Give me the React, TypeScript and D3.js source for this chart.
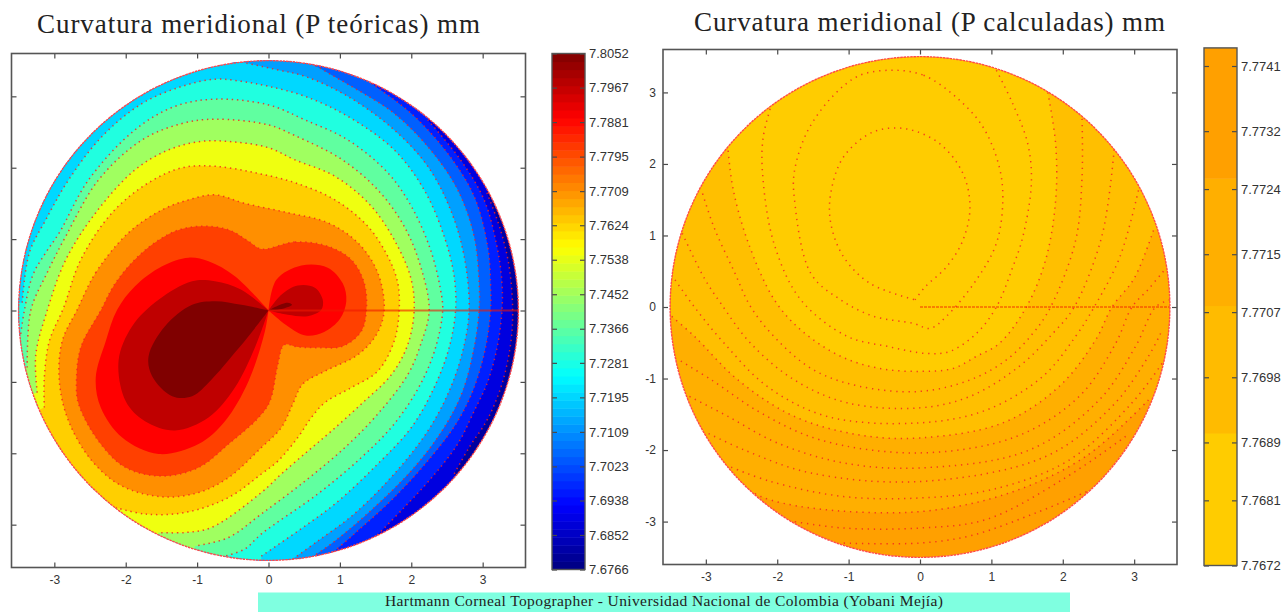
import React, { useEffect, useRef } from 'react'
import * as d3 from 'd3'

type Pt = [number, number]
type Contour = { level: number; kind: 'open' | 'loop' | 'lobe'; pts: Pt[] }

const axisTicks = [-3, -2, -1, 0, 1, 2, 3]

// filled levels of the left map, low to high
const leftLevelColors = ['#00009f', '#0000df', '#0020ff', '#0060ff', '#00a0ff', '#00d8ff', '#20ffe0', '#60ffa0', '#a0ff60', '#efff10', '#ffcf00', '#ff8f00', '#ff4000', '#ff0000', '#bf0000', '#800000']

const k1: Pt[] = [[3.06, 1.65], [3.25, 1.13], [3.37, 0.62], [3.42, 0], [3.39, -0.48], [3.27, -1.03], [3.07, -1.52], [2.81, -1.92], [2.6, -2.29]]
const k2: Pt[] = [[2.23, 2.67], [2.69, 2.11], [3.02, 1.55], [3.2, 0.9], [3.27, 0.39], [3.27, 0], [3.21, -0.48], [3.07, -1], [2.88, -1.41], [2.65, -1.87], [2.27, -2.36], [1.9, -2.76], [1.51, -3.16]]
const k3: Pt[] = [[1.44, 3.18], [2, 2.76], [2.51, 2.2], [2.88, 1.6], [3.07, 0.9], [3.11, 0.39], [3.11, 0], [3.04, -0.52], [2.88, -1.08], [2.65, -1.55], [2.27, -2.06], [1.76, -2.62], [1.2, -3.13], [0.9, -3.39]]
const k4: Pt[] = [[0.53, 3.5], [1.16, 3.14], [1.76, 2.76], [2.27, 2.25], [2.65, 1.69], [2.88, 1.04], [2.95, 0.39], [2.95, 0], [2.88, -0.52], [2.72, -1.13], [2.46, -1.64], [2.04, -2.2], [1.48, -2.76], [0.93, -3.23], [0.6, -3.46]]
const k5: Pt[] = [[-0.38, 3.48], [0.13, 3.37], [0.51, 3.28], [1.11, 3], [1.76, 2.53], [2.23, 2.02], [2.55, 1.41], [2.74, 0.76], [2.81, 0], [2.72, -0.57], [2.53, -1.13], [2.23, -1.69], [1.76, -2.29], [1.2, -2.85], [0.69, -3.23], [0.3, -3.51]]
const k6: Pt[] = [[-3.45, 0.11], [-3.35, 0.81], [-3.12, 1.27], [-2.8, 1.83], [-2.33, 2.44], [-1.77, 2.9], [-1.21, 3.14], [-0.75, 3.24], [-0.38, 3.21], [0, 3.14], [0.51, 3], [1.11, 2.72], [1.76, 2.25], [2.18, 1.69], [2.46, 1.04], [2.6, 0.48], [2.62, 0], [2.53, -0.52], [2.32, -1.08], [2, -1.64], [1.53, -2.15], [0.93, -2.71], [0.41, -3.09], [-0.1, -3.44]]
const k7: Pt[] = [[-3.48, -0.4], [-3.42, 0], [-3.3, 0.5], [-3.12, 0.81], [-2.93, 1.09], [-2.52, 1.83], [-1.87, 2.53], [-1.31, 2.86], [-0.75, 2.96], [0, 2.88], [0.51, 2.67], [1.11, 2.39], [1.67, 1.93], [2, 1.46], [2.27, 0.85], [2.41, 0.29], [2.44, 0], [2.34, -0.52], [2.13, -1.03], [1.76, -1.59], [1.3, -2.06], [0.69, -2.57], [-0.1, -3.13], [-0.33, -3.34], [-0.61, -3.44]]
const k8: Pt[] = [[-3.38, -0.8], [-3.33, 0], [-3.1, 0.53], [-2.84, 1.04], [-2.38, 1.83], [-1.77, 2.39], [-1.21, 2.62], [-0.75, 2.68], [0, 2.6], [0.37, 2.45], [1.02, 2.12], [1.53, 1.69], [1.9, 1.18], [2.13, 0.62], [2.25, 0], [2.13, -0.48], [1.95, -0.9], [1.53, -1.45], [1.07, -1.92], [0.51, -2.39], [-0.1, -2.85], [-0.56, -3.18], [-1.03, -3.3]]
const k9: Pt[] = [[-3.24, -1.15], [-3.26, -0.62], [-3.1, 0], [-2.84, 0.71], [-2.42, 1.37], [-1.87, 1.97], [-1.4, 2.25], [-0.93, 2.37], [-0.47, 2.36], [0, 2.28], [0.37, 2.11], [0.93, 1.88], [1.44, 1.46], [1.81, 0.9], [2, 0.43], [2.04, 0], [1.95, -0.48], [1.72, -0.9], [1.3, -1.31], [0.88, -1.69], [0.55, -1.97], [0.18, -2.29], [-0.1, -2.55], [-0.8, -3.04], [-1.17, -3.11], [-1.54, -3.11]]
const k10: Pt[] = [[-3.14, -1.36], [-3.14, -0.94], [-3.07, -0.43], [-2.87, 0.04], [-2.63, 0.71], [-2.19, 1.37], [-1.68, 1.79], [-1.21, 2], [-0.75, 2.02], [-0.19, 1.93], [0.37, 1.79], [0.93, 1.55], [1.39, 1.18], [1.67, 0.76], [1.81, 0.39], [1.83, 0], [1.76, -0.43], [1.53, -0.85], [1.16, -1.08], [0.79, -1.29], [0.6, -1.5], [0.41, -1.78], [0.13, -2.11], [-0.1, -2.29], [-0.56, -2.62], [-1.17, -2.83], [-1.73, -2.85], [-2.14, -2.76]]
const k11: Pt[] = [[-2.68, 0.01], [-2.42, 0.53], [-1.96, 1.09], [-1.49, 1.41], [-1.12, 1.55], [-0.75, 1.62], [-0.33, 1.5], [0.27, 1.37], [0.83, 1.23], [1.25, 0.95], [1.53, 0.53], [1.62, 0], [1.51, -0.34], [1.25, -0.62], [0.79, -0.85], [0.48, -1.03], [0.34, -1.31], [0.18, -1.64], [-0.1, -1.92], [-0.56, -2.34], [-0.98, -2.55], [-1.49, -2.61], [-2.05, -2.46], [-2.47, -2.11], [-2.8, -1.55], [-2.93, -0.99], [-2.89, -0.43]]
const k12: Pt[] = [[-0.1, 0.86], [0.37, 0.96], [0.83, 0.9], [1.16, 0.71], [1.34, 0.39], [1.37, 0], [1.3, -0.29], [1.04, -0.5], [0.69, -0.52], [0.41, -0.51], [0.22, -0.48], [0.13, -0.76], [0.02, -1.27], [-0.14, -1.5], [-0.56, -1.87], [-0.98, -2.2], [-1.49, -2.32], [-2, -2.2], [-2.38, -1.83], [-2.66, -1.31], [-2.69, -1.03], [-2.63, -0.52], [-2.35, 0], [-2.14, 0.39], [-1.77, 0.81], [-1.31, 1.11], [-0.93, 1.18], [-0.56, 1.13], [-0.28, 0.97]]
const k13Left: Pt[] = [[0, 0], [-0.47, 0.48], [-0.84, 0.69], [-1.12, 0.74], [-1.49, 0.62], [-1.87, 0.34], [-2.12, 0.01], [-2.28, -0.43], [-2.42, -0.94], [-2.35, -1.36], [-2.05, -1.78], [-1.54, -2.01], [-0.98, -1.87], [-0.61, -1.55], [-0.28, -0.99], [-0.05, -0.29], [0, 0]]
const k13Right: Pt[] = [[0, 0], [0.11, 0.43], [0.46, 0.63], [0.83, 0.6], [1.04, 0.38], [1.09, 0.13], [1, -0.12], [0.78, -0.3], [0.52, -0.35], [0.27, -0.22], [0, 0]]
const k14Left: Pt[] = [[0, 0], [-0.38, 0.29], [-0.75, 0.41], [-1.07, 0.41], [-1.54, 0.15], [-1.91, -0.22], [-2.1, -0.7], [-2, -1.27], [-1.73, -1.55], [-1.31, -1.68], [-0.84, -1.5], [-0.47, -1.08], [-0.19, -0.52], [0, 0]]
const k14Right: Pt[] = [[0, 0], [0.18, 0.22], [0.41, 0.35], [0.65, 0.32], [0.76, 0.15], [0.74, 0.01], [0.55, -0.08], [0.27, -0.06], [0, 0]]
const k15Left: Pt[] = [[0, 0], [-0.38, 0.08], [-0.75, 0.13], [-1.07, 0.08], [-1.45, -0.22], [-1.68, -0.64], [-1.63, -0.92], [-1.35, -1.2], [-1.07, -1.2], [-0.8, -0.97], [-0.47, -0.59], [-0.24, -0.31], [0, 0]]
const k15Right: Pt[] = [[0, 0], [0.09, 0.05], [0.27, 0.11], [0.33, 0.08], [0.18, 0.02], [0, 0]]

const leftContours: Contour[] = [
  { level: 1, kind: 'open', pts: k1 },
  { level: 2, kind: 'open', pts: k2 },
  { level: 3, kind: 'open', pts: k3 },
  { level: 4, kind: 'open', pts: k4 },
  { level: 5, kind: 'open', pts: k5 },
  { level: 6, kind: 'open', pts: k6 },
  { level: 7, kind: 'open', pts: k7 },
  { level: 8, kind: 'open', pts: k8 },
  { level: 9, kind: 'open', pts: k9 },
  { level: 10, kind: 'open', pts: k10 },
  { level: 11, kind: 'loop', pts: k11 },
  { level: 12, kind: 'loop', pts: k12 },
  { level: 13, kind: 'lobe', pts: k13Left },
  { level: 13, kind: 'lobe', pts: k13Right },
  { level: 14, kind: 'lobe', pts: k14Left },
  { level: 14, kind: 'lobe', pts: k14Right },
  { level: 15, kind: 'lobe', pts: k15Left },
  { level: 15, kind: 'lobe', pts: k15Right },
]

// right map, only four colours show up
const rightLevelColors = ['#ffa000', '#ffaf00', '#ffbf00', '#ffcc00']

const d1: Pt[] = [[-0.07, 0.1], [0.07, 0.28], [0.37, 0.56], [0.6, 0.93], [0.7, 1.4], [0.6, 1.87], [0.28, 2.28], [-0.19, 2.49], [-0.65, 2.45], [-1.07, 2.1], [-1.25, 1.59], [-1.25, 1.17], [-1.07, 0.7], [-0.7, 0.33], [-0.07, 0.1]]
const d2: Pt[] = [[-0.37, 3.31], [0.05, 3.24], [0.51, 2.93], [0.88, 2.52], [1.11, 1.96], [1.16, 1.49], [1.07, 0.89], [0.79, 0.38], [0.37, -0.13], [0.14, -0.3], [-0.09, -0.23], [-0.65, -0.13], [-1.11, 0.1], [-1.53, 0.47], [-1.76, 1.52], [-1.76, 1.89], [-1.58, 2.45], [-1.21, 2.96], [-0.84, 3.24]]
const d3c: Pt[] = [[1.07, 3.31], [1.3, 2.84], [1.51, 2.28], [1.56, 1.73], [1.44, 0.98], [1.3, 0.56], [1.07, 0], [0.79, -0.37], [0.42, -0.62], [0.09, -0.65], [-0.46, -0.55], [-1.02, -0.41], [-1.67, 0.1], [-2.04, 0.87], [-2.2, 1.8], [-2.2, 2.35], [-2.09, 2.8]]
const d4: Pt[] = [[1.79, 3], [1.9, 2.28], [1.9, 1.49], [1.76, 0.66], [1.49, 0], [1.11, -0.51], [0.79, -0.69], [0.46, -0.86], [0, -0.9], [-0.56, -0.86], [-1.11, -0.69], [-1.67, -0.32], [-2.04, 0.1], [-2.41, 0.91], [-2.62, 1.66], [-2.69, 2.21]]
const d5: Pt[] = [[2.27, 2.63], [2.27, 1.82], [2.18, 0.93], [1.83, 0], [1.58, -0.37], [1.21, -0.74], [0.7, -1.02], [0, -1.18], [-0.84, -1.11], [-1.49, -0.88], [-2, -0.46], [-2.37, 0], [-2.6, 0.49], [-2.88, 1.1], [-3.06, 1.63]]
const d6: Pt[] = [[2.72, 2.2], [2.55, 1], [2.16, 0], [1.86, -0.37], [1.39, -0.83], [0.7, -1.25], [0, -1.41], [-1.02, -1.34], [-1.76, -1.02], [-2.37, -0.51], [-2.79, 0.05], [-3.02, 0.4], [-3.34, 1.05]]
const d7: Pt[] = [[3.06, 1.63], [2.8, 0.7], [2.44, 0], [2.18, -0.41], [1.72, -0.97], [0.93, -1.44], [0, -1.62], [-1.3, -1.53], [-2.14, -1.11], [-2.74, -0.51], [-3.16, 0], [-3.48, 0.45]]
const d8: Pt[] = [[3.27, 1.07], [3, 0.4], [2.69, 0], [2.46, -0.46], [1.95, -1.11], [1.16, -1.62], [0, -1.83], [-0.84, -1.79], [-1.76, -1.53], [-2.55, -1.02], [-3.16, -0.41], [-3.48, -0.13]]
const d9: Pt[] = [[3.41, 0.5], [3.2, 0.25], [2.97, 0], [2.74, -0.51], [2.23, -1.25], [1.35, -1.81], [0, -2.04], [-1.39, -1.86], [-2.23, -1.48], [-2.92, -1.02], [-3.41, -0.72]]
const d10: Pt[] = [[3.5, 0.1], [3.3, 0], [3.02, -0.55], [2.51, -1.3], [1.53, -2], [0, -2.25], [-1.07, -2.18], [-2, -1.9], [-2.69, -1.53], [-3.23, -1.25]]
const d11: Pt[] = [[3.37, -0.37], [3.2, -0.69], [2.69, -1.39], [1.76, -2.09], [0, -2.44], [-1.53, -2.32], [-2.46, -2], [-3.02, -1.74]]
const d12: Pt[] = [[3.39, -0.79], [2.97, -1.34], [2.09, -2.14], [1.02, -2.55], [0, -2.67], [-1.07, -2.65], [-2.09, -2.44], [-2.67, -2.23]]
const d13: Pt[] = [[3.2, -1.3], [2.32, -2.09], [1.25, -2.6], [0, -2.86], [-1.53, -2.81], [-2.23, -2.65], [-2.51, -2.48]]
const d14: Pt[] = [[2.88, -1.81], [2, -2.41], [0.93, -2.97], [0, -3.09], [-1.07, -3.09], [-1.76, -3]]
const d15: Pt[] = [[2.41, -2.55], [1.62, -2.88], [0.7, -3.2], [0, -3.3], [-1.11, -3.3]]

// level 0 means the line is only dots, no fill change
const rightContours: Contour[] = [
  { level: 1, kind: 'open', pts: d13 },
  { level: 2, kind: 'open', pts: d8 },
  { level: 3, kind: 'open', pts: d4 },
  { level: 0, kind: 'open', pts: d15 },
  { level: 0, kind: 'open', pts: d14 },
  { level: 0, kind: 'open', pts: d12 },
  { level: 0, kind: 'open', pts: d11 },
  { level: 0, kind: 'open', pts: d10 },
  { level: 0, kind: 'open', pts: d9 },
  { level: 0, kind: 'open', pts: d7 },
  { level: 0, kind: 'open', pts: d6 },
  { level: 0, kind: 'open', pts: d5 },
  { level: 0, kind: 'open', pts: d3c },
  { level: 0, kind: 'loop', pts: d2 },
  { level: 0, kind: 'lobe', pts: d1 },
]

const leftBarTicks = [7.8052, 7.7967, 7.7881, 7.7795, 7.7709, 7.7624, 7.7538, 7.7452, 7.7366, 7.7281, 7.7195, 7.7109, 7.7023, 7.6938, 7.6852, 7.6766]
const rightBarTicks = [7.7741, 7.7732, 7.7724, 7.7715, 7.7707, 7.7698, 7.7689, 7.7681, 7.7672]
const rightBarEdges = [7.7672, 7.76903, 7.77079, 7.77255, 7.77435]
const rightBarColors = ['#ffcc00', '#ffbb00', '#ffaf00', '#ffa000']

const tickColor = '#4a4a4a'
const labelFont = '"Liberation Sans", Arial, sans-serif'

function jet(t: number) {
  const c = (v: number) => Math.round(255 * Math.max(0, Math.min(1, v)))
  return d3.rgb(c(1.5 - Math.abs(4 * t - 3)), c(1.5 - Math.abs(4 * t - 2)), c(1.5 - Math.abs(4 * t - 1))).toString()
}

function styleAxis(g: any, size = 12) {
  g.select('.domain').remove()
  g.selectAll('line').attr('stroke', tickColor).attr('stroke-width', 1.2)
  g.selectAll('text').attr('fill', '#333').attr('font-size', size).attr('font-family', labelFont)
}

function drawMap(svg: any, id: string, box: { x0: number; x1: number; y0: number; y1: number }, contours: Contour[], colors: string[], showY: boolean, rayDash: string | null, dots: string) {
  const x = d3.scaleLinear().domain([-3.6, 3.6]).range([box.x0, box.x1])
  const y = d3.scaleLinear().domain([-3.6, 3.6]).range([box.y1, box.y0])

  svg.append('rect')
    .attr('x', box.x0).attr('y', box.y0)
    .attr('width', box.x1 - box.x0).attr('height', box.y1 - box.y0)
    .attr('fill', '#fff')

  const cx = x(0), cy = y(0)
  const rx = x(3.5) - cx, ry = cy - y(3.5)

  svg.append('clipPath').attr('id', id)
    .append('ellipse').attr('cx', cx).attr('cy', cy).attr('rx', rx).attr('ry', ry)

  const plot = svg.append('g').attr('clip-path', `url(#${id})`)

  plot.append('rect')
    .attr('x', box.x0).attr('y', box.y0)
    .attr('width', box.x1 - box.x0).attr('height', box.y1 - box.y0)
    .attr('fill', colors[0])

  const openLine = d3.line<Pt>().x(d => x(d[0])).y(d => y(d[1])).curve(d3.curveCatmullRom.alpha(0.5))
  const loopLine = d3.line<Pt>().x(d => x(d[0])).y(d => y(d[1])).curve(d3.curveCatmullRomClosed.alpha(0.5))

  // contours run clockwise; an open one is shut by going round outside the circle
  const fillPath = (c: Contour) => {
    if (c.kind === 'loop') return loopLine(c.pts)
    if (c.kind === 'lobe') return openLine(c.pts) + 'Z'
    const first = c.pts[0], last = c.pts[c.pts.length - 1]
    const a1 = Math.atan2(last[1], last[0])
    let a0 = Math.atan2(first[1], first[0])
    while (a0 >= a1) a0 -= Math.PI * 2
    const ring: string[] = d3.range(0, 25).map(i => {
      const a = a1 + (a0 - a1) * i / 24
      return `L${x(8 * Math.cos(a))},${y(8 * Math.sin(a))}`
    })
    return openLine(c.pts) + ring.join('') + 'Z'
  }

  contours.filter(c => c.level > 0).forEach(c => {
    plot.append('path').attr('d', fillPath(c)).attr('fill', colors[c.level])
  })

  // red dots vanish on the red levels so those get none
  contours.filter(c => c.level < 13).forEach(c => {
    plot.append('path')
      .attr('d', c.kind === 'loop' ? loopLine(c.pts) : openLine(c.pts))
      .attr('fill', 'none')
      .attr('stroke', '#f4231e')
      .attr('stroke-opacity', 0.85)
      .attr('stroke-width', 1.5)
      .attr('stroke-dasharray', dots)
  })

  // the radial line at angle zero
  const ray = plot.append('line')
    .attr('x1', x(0)).attr('x2', x(3.5)).attr('y1', cy).attr('y2', cy)
    .attr('stroke', '#f01800')
  if (rayDash) ray.attr('stroke-width', 1).attr('stroke-opacity', 0.85).attr('stroke-dasharray', rayDash)
  else ray.attr('stroke-width', 2).attr('stroke-opacity', 0.6)

  // rim
  svg.append('ellipse')
    .attr('cx', cx).attr('cy', cy).attr('rx', rx).attr('ry', ry)
    .attr('fill', 'none')
    .attr('stroke', '#ff4a4a')
    .attr('stroke-width', 1.4)
    .attr('stroke-dasharray', '2.5 0.8')

  const bottom = svg.append('g').attr('transform', `translate(0,${box.y1})`)
    .call(d3.axisBottom(x).tickValues(axisTicks).tickSize(-5).tickPadding(8).tickFormat((d: any) => String(d)))
  styleAxis(bottom)
  const top = svg.append('g').attr('transform', `translate(0,${box.y0})`)
    .call(d3.axisTop(x).tickValues(axisTicks).tickSize(-5).tickFormat(() => ''))
  styleAxis(top)
  const left = svg.append('g').attr('transform', `translate(${box.x0},0)`)
    .call(d3.axisLeft(y).tickValues(axisTicks).tickSize(-5).tickPadding(7).tickFormat(showY ? ((d: any) => String(d)) : () => ''))
  styleAxis(left)
  const right = svg.append('g').attr('transform', `translate(${box.x1},0)`)
    .call(d3.axisRight(y).tickValues(axisTicks).tickSize(-5).tickFormat(() => ''))
  styleAxis(right)

  svg.append('rect')
    .attr('x', box.x0).attr('y', box.y0)
    .attr('width', box.x1 - box.x0).attr('height', box.y1 - box.y0)
    .attr('fill', 'none').attr('stroke', '#555').attr('stroke-width', 1.6)
}

function drawBar(svg: any, box: { x0: number; x1: number; y0: number; y1: number }, scale: any, ticks: number[], cells: { lo: number; hi: number; color: string }[]) {
  svg.append('g').selectAll('rect').data(cells).join('rect')
    .attr('x', box.x0)
    .attr('width', box.x1 - box.x0)
    .attr('y', (d: any) => scale(d.hi))
    .attr('height', (d: any) => scale(d.lo) - scale(d.hi) + 0.5)
    .attr('fill', (d: any) => d.color)

  const right = svg.append('g').attr('transform', `translate(${box.x1},0)`)
    .call(d3.axisRight(scale).tickValues(ticks).tickSize(-5).tickPadding(4).tickFormat(d3.format('.4f') as any))
  styleAxis(right, 13)
  const left = svg.append('g').attr('transform', `translate(${box.x0},0)`)
    .call(d3.axisLeft(scale).tickValues(ticks).tickSize(-5).tickFormat(() => ''))
  styleAxis(left)

  svg.append('rect')
    .attr('x', box.x0).attr('y', box.y0)
    .attr('width', box.x1 - box.x0).attr('height', box.y1 - box.y0)
    .attr('fill', 'none').attr('stroke', '#555').attr('stroke-width', 1.4)
}

export default function App() {
  const ref = useRef<SVGSVGElement>(null)

  useEffect(() => {
    const svg = d3.select(ref.current)
    svg.selectAll('*').remove()

    drawMap(svg, 'clip-left', { x0: 11.5, x1: 525.5, y0: 53.5, y1: 567.5 }, leftContours, leftLevelColors, false, null, '1.4 3.8')
    drawMap(svg, 'clip-right', { x0: 663, x1: 1177, y0: 49.5, y1: 564.5 }, rightContours, rightLevelColors, true, '3 1', '1.3 4.8')

    // left colorbar, 64 steps of jet
    const lo = leftBarTicks[leftBarTicks.length - 1], hi = leftBarTicks[0]
    const leftScale = d3.scaleLinear().domain([lo, hi]).range([569.5, 53.5])
    const step = (hi - lo) / 64
    const leftCells = d3.range(64).map(i => ({ lo: lo + i * step, hi: lo + (i + 1) * step, color: jet((i + 0.5) / 64) }))
    drawBar(svg, { x0: 552, x1: 585, y0: 53.5, y1: 569.5 }, leftScale, leftBarTicks, leftCells)

    // right colorbar
    const rightScale = d3.scaleLinear().domain([7.7672, 7.7741]).range([565.5, 66])
    const rightCells = rightBarColors.map((color, i) => ({ lo: rightBarEdges[i], hi: rightBarEdges[i + 1], color }))
    drawBar(svg, { x0: 1204, x1: 1237, y0: rightScale(rightBarEdges[4]), y1: 565.5 }, rightScale, rightBarTicks, rightCells)

    // titles
    const titles = [
      { text: 'Curvatura meridional (P teóricas) mm', x: 37, y: 33, w: 443 },
      { text: 'Curvatura meridional (P calculadas) mm', x: 694, y: 31, w: 471 },
    ]
    svg.selectAll('text.title').data(titles).join('text')
      .attr('class', 'title')
      .attr('x', d => d.x).attr('y', d => d.y)
      .attr('textLength', d => d.w)
      .attr('font-family', '"Liberation Serif", "DejaVu Serif", serif')
      .attr('font-size', 27)
      .attr('fill', '#222')
      .text(d => d.text)

    // footer strip
    svg.append('rect').attr('x', 258).attr('y', 592.5).attr('width', 812).attr('height', 20).attr('fill', '#7fffe0')
    svg.append('text')
      .attr('x', 385).attr('y', 606)
      .attr('textLength', 558)
      .attr('font-family', '"Liberation Serif", serif')
      .attr('font-size', 15.5)
      .attr('fill', '#222')
      .text('Hartmann Corneal Topographer - Universidad Nacional de Colombia (Yobani Mejía)')
  }, [])

  return <svg ref={ref} width={1284} height={612} style={{ position: 'absolute', left: 0, top: 0, display: 'block', background: '#fff' }} />
}
